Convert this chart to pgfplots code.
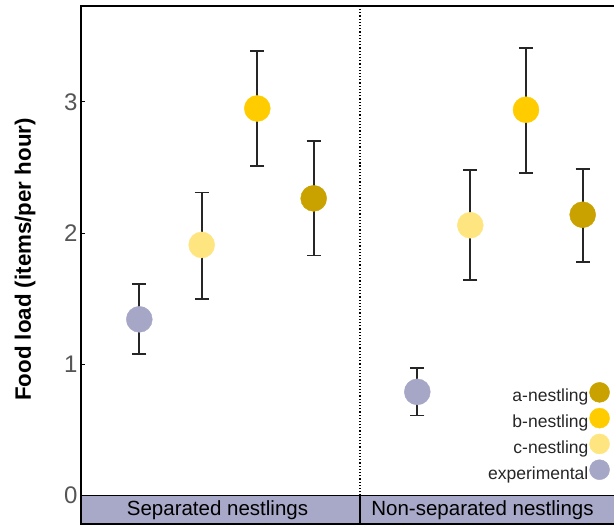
\documentclass[border=0pt]{standalone}
\usepackage{pgfplots}
\pgfplotsset{compat=1.18}
\usepackage{pgfplotstable}
\usepackage{fontspec}
\setmainfont{Liberation Sans}
\definecolor{cA}{HTML}{C9A200}
\definecolor{cB}{HTML}{FFCC00}
\definecolor{cC}{HTML}{FFE580}
\definecolor{cE}{HTML}{A6A6C6}
\definecolor{stripc}{HTML}{A8A8C8}
\definecolor{tickgray}{HTML}{555555}

% x = horizontal position (bp from left frame), y = mean, ep/em = error
\pgfplotstableread{
x y ep em
232.7 2.265 0.435 0.435
501.7 2.14 0.35 0.36
}\tA
\pgfplotstableread{
x y ep em
176.3 2.95 0.44 0.44
445.0 2.94 0.47 0.48
}\tB
\pgfplotstableread{
x y ep em
120.7 1.91 0.40 0.41
389.3 2.06 0.42 0.42
}\tC
\pgfplotstableread{
x y ep em
58.3 1.343 0.267 0.263
336.3 0.79 0.18 0.18
}\tE

\pgfplotsset{
  pt/.style={only marks, mark=*, mark size=13bp, color=#1, mark options={draw=#1, fill=#1},
    error bars/y dir=both, error bars/y explicit,
    error bars/error bar style={draw=black!85, line width=1.8bp, solid},
    error bars/error mark options={draw=black!85, rotate=90, mark size=7bp, line width=1.8bp},
    legend image code/.code={\fill[##1] (10bp,4bp) circle (10bp);}},
}

\begin{document}
\begin{tikzpicture}
\useasboundingbox (-81bp,-2bp) rectangle (533bp,524bp);
\clip (-81bp,-2bp) rectangle (533bp,524bp);
\begin{axis}[
  scale only axis, width=560bp, height=518bp,
  xmin=0, xmax=560, ymin=-0.217, ymax=3.731,
  xtick=\empty, ytick={0,1,2,3},
  axis line style={black, line width=1.5bp},
  tick align=inside, major tick length=4bp,
  ytick style={black, line width=1bp},
  yticklabel style={font=\fontsize{24bp}{28bp}\selectfont, text=tickgray},
  /pgf/number format/assume math mode=true,
  ylabel={Food load (items/per hour)},
  ylabel style={font=\bfseries\fontsize{22.3bp}{27bp}\selectfont, at={(axis description cs:-0.1,0.5106)}, anchor=center},
  legend plot pos=right,
  legend cell align=right,
  legend style={draw=none, fill=none, at={(axis description cs:0.9446,0.083)}, anchor=south east,
    font=\fontsize{17.5bp}{21bp}\selectfont, text=black!85, row sep=4.5bp, inner sep=0pt, column sep=1bp,
    nodes={inner sep=0pt}},
]
\draw[fill=stripc, line width=1.5bp] (axis cs:0,-0.217) rectangle (axis cs:560,0);
\draw[black, line width=1.2bp, dotted] (axis cs:279,0) -- (axis cs:279,3.731);
\draw[black, line width=1.5bp] (axis cs:279,-0.217) -- (axis cs:279,0);
\node[font=\fontsize{20.5bp}{24bp}\selectfont] at (axis cs:136.5,-0.1085) {Separated nestlings};
\node[font=\fontsize{20.5bp}{24bp}\selectfont] at (axis cs:401.5,-0.1085) {Non-separated nestlings};

\addplot[pt=cA] table[x=x, y=y, y error plus=ep, y error minus=em]{\tA};
\addlegendentry{a-nestling}
\addplot[pt=cB] table[x=x, y=y, y error plus=ep, y error minus=em]{\tB};
\addlegendentry{b-nestling}
\addplot[pt=cC] table[x=x, y=y, y error plus=ep, y error minus=em]{\tC};
\addlegendentry{c-nestling}
\addplot[pt=cE] table[x=x, y=y, y error plus=ep, y error minus=em]{\tE};
\addlegendentry{experimental}
\end{axis}
\end{tikzpicture}
\end{document}
